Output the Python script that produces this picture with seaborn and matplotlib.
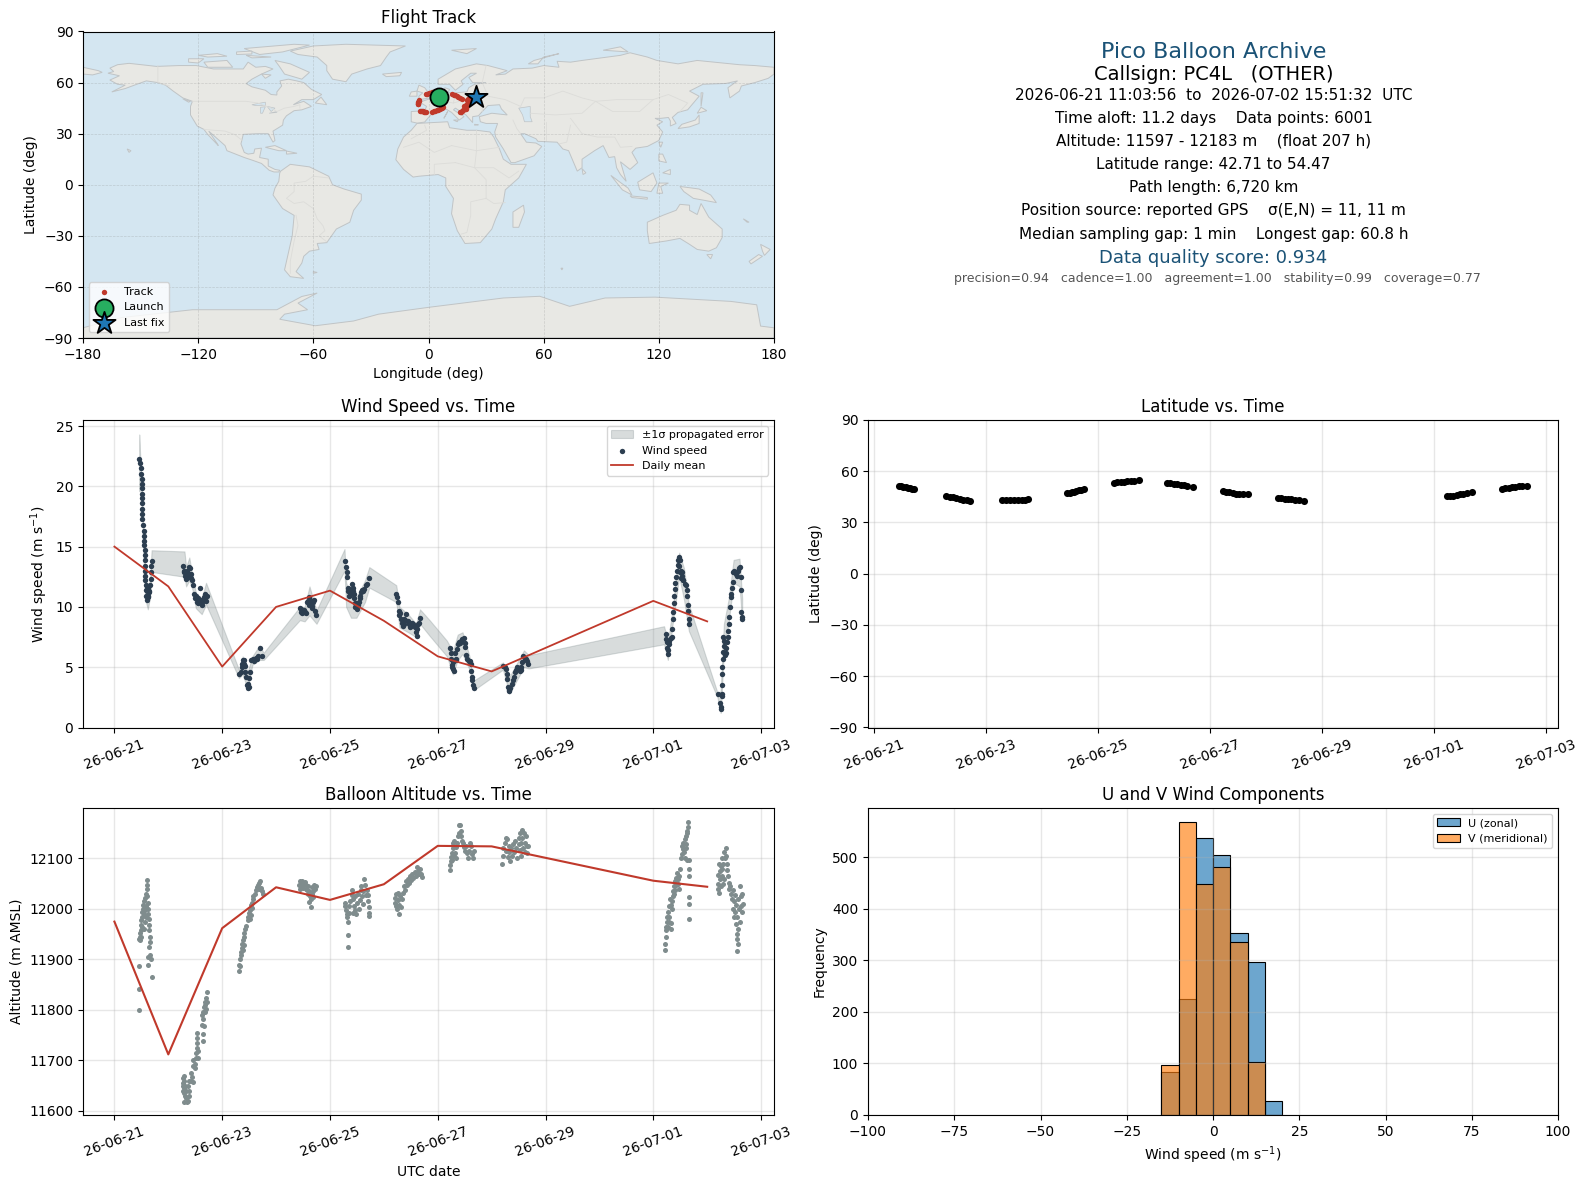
import numpy as np
import pandas as pd
import matplotlib
matplotlib.use('Agg')
import matplotlib.pyplot as plt
import matplotlib.dates as mdates
import seaborn as sns

# === data: time is days after 2026-06-21 00:00 ===
start = pd.Timestamp('2026-06-21')

wind_pts = [
    # 06-21
    (.46,22.3),(.48,21.9),(.49,21.5),(.50,21.05),(.51,20.6),(.51,20.2),(.51,19.9),(.52,19.4),(.52,19.0),(.52,18.6),
    (.52,18.1),(.52,17.7),(.52,17.3),(.53,16.8),(.54,16.3),(.54,15.9),(.54,15.5),(.545,15.1),(.56,14.7),(.56,14.3),
    (.565,13.85),(.57,13.4),(.57,13.0),(.57,12.6),(.57,12.2),(.58,11.8),(.58,11.4),(.595,10.9),(.61,10.6),(.63,10.8),
    (.65,11.2),(.66,11.8),(.67,12.3),(.68,12.9),(.68,13.4),(.69,13.8),(.60,11.3),(.62,10.9),(.64,11.3),(.61,11.7),(.63,11.6),
    (1.28,13.4),(1.30,13.0),(1.31,12.6),(1.33,12.3),(1.36,12.7),(1.38,13.3),(1.41,13.2),(1.42,12.7),(1.44,12.2),(1.46,11.8),
    (1.48,11.1),(1.50,10.7),(1.53,10.4),(1.56,10.3),(1.58,11.6),(1.61,10.3),(1.64,10.5),(1.66,10.8),(1.69,11.1),(1.71,10.9),
    (1.29,12.9),(1.32,12.9),(1.35,13.0),(1.37,12.5),(1.40,12.7),(1.43,12.4),(1.52,10.9),(1.55,10.7),(1.60,10.6),(1.63,10.2),(1.68,10.7),(1.70,10.5),
    # 06-23
    (2.31,4.4),(2.34,4.6),(2.36,5.3),(2.38,5.6),(2.41,5.3),(2.43,4.6),(2.44,4.15),(2.46,3.5),(2.49,3.4),(2.51,4.6),
    (2.54,5.6),(2.58,5.7),(2.62,5.8),(2.66,5.95),(2.70,6.6),(2.73,5.95),(2.37,5.0),(2.40,5.6),(2.42,5.1),(2.47,3.3),(2.48,3.6),(2.50,4.1),(2.59,5.5),(2.64,5.7),
    (3.44,9.9),(3.47,9.6),(3.51,9.75),(3.55,9.5),(3.57,10.4),(3.61,10.85),(3.65,10.4),(3.67,9.95),(3.71,10.6),(3.74,9.3),
    (3.46,9.8),(3.49,9.5),(3.53,9.6),(3.59,10.5),(3.63,10.6),(3.66,10.1),(3.69,10.4),(3.72,9.7),(3.62,10.2),
    # 06-25
    (4.27,13.8),(4.30,13.3),(4.32,12.5),(4.33,11.6),(4.35,10.9),(4.38,11.2),(4.42,11.6),(4.44,11.1),(4.47,10.0),(4.50,9.8),
    (4.54,10.4),(4.56,10.9),(4.60,11.4),(4.64,11.5),(4.69,11.9),(4.73,12.4),(4.31,12.9),(4.34,11.3),(4.36,11.5),(4.37,11.0),
    (4.40,11.9),(4.43,11.3),(4.45,10.7),(4.46,10.3),(4.48,10.3),(4.52,10.2),(4.55,10.7),(4.58,11.2),(4.62,11.3),(4.66,11.8),
    (5.23,11.1),(5.27,10.4),(5.28,9.7),(5.31,9.0),(5.35,8.45),(5.38,9.0),(5.42,9.4),(5.46,8.6),(5.49,8.3),(5.53,8.7),
    (5.57,8.3),(5.61,7.6),(5.64,8.6),(5.68,9.1),(5.25,10.8),(5.29,9.3),(5.30,9.5),(5.33,8.7),(5.37,8.6),(5.40,8.9),
    (5.44,8.8),(5.48,8.7),(5.51,8.4),(5.55,8.6),(5.59,7.9),(5.60,8.3),(5.62,8.2),(5.66,8.7),
    # 06-27
    (6.23,6.6),(6.25,5.7),(6.28,4.85),(6.30,4.7),(6.33,5.7),(6.35,6.5),(6.39,7.05),(6.43,7.2),(6.48,7.4),(6.51,6.65),
    (6.54,5.7),(6.58,5.55),(6.61,5.3),(6.63,4.15),(6.65,3.5),(6.67,3.25),(6.24,6.2),(6.26,5.2),(6.27,5.0),(6.29,5.4),
    (6.32,6.2),(6.34,5.6),(6.37,6.9),(6.41,7.0),(6.45,7.3),(6.50,7.0),(6.53,6.0),(6.60,5.5),(6.62,4.7),(6.64,3.9),
    (7.21,5.1),(7.26,4.85),(7.29,4.0),(7.32,3.1),(7.35,3.3),(7.39,3.9),(7.43,4.6),(7.47,5.0),(7.52,4.7),(7.55,5.0),
    (7.59,5.95),(7.63,5.7),(7.68,5.3),(7.24,5.0),(7.28,4.4),(7.31,3.4),(7.33,3.0),(7.37,3.6),(7.41,4.2),(7.45,4.8),
    (7.50,4.9),(7.54,4.8),(7.57,5.4),(7.61,5.7),(7.65,5.5),
    # 07-01
    (10.23,7.75),(10.25,7.05),(10.27,6.1),(10.30,7.2),(10.34,7.5),(10.36,9.0),(10.39,10.9),(10.44,13.0),(10.47,14.1),(10.50,13.85),
    (10.53,12.6),(10.56,12.2),(10.60,11.8),(10.63,10.9),(10.65,9.7),(10.66,8.6),(10.24,7.3),(10.26,6.6),(10.28,6.4),(10.29,6.9),
    (10.32,7.4),(10.35,8.2),(10.37,9.6),(10.38,10.3),(10.40,11.5),(10.41,12.0),(10.42,12.5),(10.45,13.5),(10.46,13.9),(10.48,13.4),
    (10.49,12.9),(10.51,13.0),(10.52,12.4),(10.54,12.9),(10.55,12.2),(10.58,11.9),(10.62,11.4),(10.64,10.2),(10.67,9.0),
    (11.21,2.8),(11.25,1.5),(11.27,2.75),(11.27,4.4),(11.29,5.7),(11.30,7.5),(11.34,6.2),(11.38,7.5),(11.41,8.6),(11.43,10.0),
    (11.46,11.6),(11.48,12.9),(11.53,12.75),(11.57,13.0),(11.61,13.3),(11.63,12.5),(11.63,11.4),(11.63,9.55),(11.65,9.0),
    (11.24,2.0),(11.26,1.7),(11.28,3.5),(11.28,5.0),(11.30,6.3),(11.31,6.8),(11.32,7.2),(11.33,6.0),(11.35,6.6),(11.36,7.1),
    (11.39,8.0),(11.40,9.2),(11.44,10.8),(11.45,11.1),(11.47,12.1),(11.50,13.0),(11.55,12.6),(11.59,13.2),(11.64,9.2),(11.28,2.6),
]

# propagated error band: t, lower, upper
band_pts = [
    (.46,19.6,24.3),(.48,20.0,22.4),(.52,17.2,19.1),(.545,13.8,15.1),(.58,10.5,12.2),(.62,9.8,11.2),(.66,10.8,12.4),(.69,12.9,14.7),
    (1.30,12.5,14.6),(1.33,11.7,13.3),(1.39,12.2,14.1),(1.45,11.4,12.5),(1.51,9.9,11.2),(1.62,9.4,10.7),(1.70,10.2,12.0),
    (2.31,4.1,4.8),(2.38,4.4,5.9),(2.47,3.2,4.6),(2.56,5.2,5.9),(2.69,5.6,6.8),(2.77,5.6,6.2),
    (3.44,8.9,10.0),(3.53,8.8,10.0),(3.62,9.3,11.7),(3.75,8.6,9.7),
    (4.27,13.0,14.8),(4.30,10.0,12.0),(4.39,9.1,11.0),(4.49,9.1,10.8),(4.65,10.4,12.2),(4.73,11.6,13.3),
    (5.23,10.4,11.8),(5.29,8.3,10.0),(5.45,7.9,9.4),(5.60,7.5,8.6),(5.67,8.6,9.8),(5.85,7.6,8.9),(6.17,5.9,7.2),
    (6.28,4.4,6.3),(6.37,5.6,7.7),(6.46,6.1,7.9),(6.59,4.8,5.9),(6.67,3.1,3.9),
    (7.21,4.8,5.4),(7.33,2.8,4.2),(7.60,5.0,6.4),(7.69,4.9,6.0),
    (10.20,6.9,8.4),(10.27,5.6,7.1),(10.35,8.3,9.6),(10.48,12.5,14.5),(10.57,10.6,13.2),(10.66,8.0,10.2),
    (11.19,2.5,2.9),(11.25,1.2,3.0),(11.31,6.3,8.6),(11.40,8.8,10.7),(11.49,12.0,13.9),(11.60,11.7,14.0),(11.65,8.8,10.7),
]

alt_pts = [
    (.46,11940),(.47,11938),(.48,11945),(.48,11952),(.49,11958),(.50,11968),(.50,11978),(.51,11985),(.52,11995),(.53,12000),
    (.53,12008),(.55,12015),(.56,12022),(.58,12030),(.60,12040),(.61,12057),(.60,12047),(.61,12025),(.62,12012),(.63,12000),
    (.63,11990),(.64,11980),(.64,11968),(.65,11958),(.66,11945),(.66,11935),(.65,11925),(.55,11990),(.57,11998),(.59,12005),
    (.56,11975),(.58,11985),(.54,11960),(.52,11965),(.50,11945),(.62,11905),(.63,11890),(.46,11888),(.69,11865),(.46,11842),
    (.46,11799),(.66,11908),(.68,11900),
    (1.27,11650),(1.27,11640),(1.28,11665),(1.28,11655),(1.29,11635),(1.29,11645),(1.30,11670),(1.30,11660),(1.31,11650),(1.31,11630),
    (1.32,11640),(1.33,11625),(1.34,11618),(1.30,11618),(1.36,11620),(1.38,11630),(1.38,11640),(1.36,11650),(1.39,11660),(1.42,11660),
    (1.45,11657),(1.44,11668),(1.42,11675),(1.45,11690),(1.46,11700),(1.50,11693),(1.50,11685),(1.52,11705),(1.52,11715),(1.53,11725),
    (1.55,11718),(1.56,11705),(1.54,11735),(1.54,11745),(1.54,11755),(1.64,11738),(1.64,11752),(1.62,11770),(1.66,11768),(1.63,11790),
    (1.65,11783),(1.65,11795),(1.66,11805),(1.68,11795),(1.68,11810),(1.69,11815),(1.70,11802),(1.70,11823),(1.71,11815),(1.72,11835),
    (2.31,11878),(2.31,11890),(2.33,11888),(2.33,11900),(2.34,11908),(2.35,11915),(2.36,11922),(2.37,11930),(2.38,11918),(2.39,11938),
    (2.40,11945),(2.40,11928),(2.41,11952),(2.43,11960),(2.44,11966),(2.47,11978),(2.48,11985),(2.49,11992),(2.51,11980),(2.52,11998),
    (2.53,11988),(2.54,12008),(2.55,12002),(2.56,12012),(2.57,12020),(2.58,12026),(2.60,12030),(2.62,12038),(2.64,12044),(2.66,12048),
    (2.68,12052),(2.70,12056),(2.69,12040),(2.72,12042),(2.74,12035),(2.75,12030),
    (3.43,12048),(3.44,12055),(3.45,12040),(3.46,12052),(3.47,12045),(3.49,12055),(3.50,12042),(3.51,12050),(3.53,12054),(3.55,12048),
    (3.56,12040),(3.58,12037),(3.59,12030),(3.60,12045),(3.62,12035),(3.63,12025),(3.64,12020),(3.66,12030),(3.67,12044),(3.68,12024),
    (3.69,12035),(3.70,12048),(3.72,12040),(3.74,12046),(3.65,12003),(3.62,12013),
    (4.27,12012),(4.28,12005),(4.30,11998),(4.31,11990),(4.32,11984),(4.33,11975),(4.35,11992),(4.36,12005),(4.38,12015),(4.40,12028),
    (4.41,12038),(4.43,12020),(4.45,12005),(4.46,11998),(4.47,12025),(4.49,11990),(4.50,12012),(4.52,12030),(4.54,12000),(4.55,12018),
    (4.57,12038),(4.58,12045),(4.60,12025),(4.61,12035),(4.62,12010),(4.63,12060),(4.65,12048),(4.66,12028),(4.68,12038),(4.70,12015),
    (4.71,12028),(4.72,12003),(4.73,11992),(4.73,11986),(4.33,11948),(4.33,11925),(4.43,11992),
    (5.20,12022),(5.21,12012),(5.22,12005),(5.23,12030),(5.25,12000),(5.26,12018),(5.27,12032),(5.28,11990),(5.29,12008),(5.30,12025),
    (5.31,12003),(5.33,12020),(5.35,12032),(5.37,12045),(5.39,12038),(5.41,12055),(5.43,12048),(5.45,12060),(5.47,12052),(5.49,12066),
    (5.51,12058),(5.53,12070),(5.55,12062),(5.57,12074),(5.59,12066),(5.61,12083),(5.63,12076),(5.65,12070),(5.67,12080),(5.69,12070),(5.71,12064),
    (6.22,12077),(6.22,12087),(6.24,12095),(6.25,12103),(6.27,12110),(6.27,12097),(6.28,12120),(6.29,12130),(6.31,12135),(6.30,12105),
    (6.32,12110),(6.34,12100),(6.34,12122),(6.36,12130),(6.37,12145),(6.39,12150),(6.40,12166),(6.42,12166),(6.43,12155),(6.44,12145),
    (6.45,12135),(6.47,12130),(6.49,12122),(6.50,12115),(6.52,12125),(6.54,12110),(6.56,12100),(6.58,12115),(6.60,12130),(6.62,12125),
    (6.63,12108),(6.65,12100),(6.67,12115),
    (7.20,12090),(7.21,12105),(7.22,12120),(7.24,12130),(7.26,12140),(7.27,12115),(7.29,12138),(7.30,12102),(7.32,12125),(7.33,12112),
    (7.35,12095),(7.36,12120),(7.38,12105),(7.40,12128),(7.42,12112),(7.44,12135),(7.46,12120),(7.48,12100),(7.50,12128),(7.51,12140),
    (7.52,12116),(7.53,12150),(7.54,12130),(7.55,12105),(7.56,12156),(7.57,12140),(7.58,12120),(7.60,12150),(7.61,12130),(7.62,12112),
    (7.64,12145),(7.65,12125),(7.66,12110),(7.68,12125),
    (10.21,11919),(10.21,11931),(10.23,11945),(10.24,11958),(10.24,11965),(10.25,11975),(10.26,11985),(10.27,11995),(10.28,11965),(10.29,11975),
    (10.29,12005),(10.30,11985),(10.31,12020),(10.32,12008),(10.33,11960),(10.33,11973),(10.34,12000),(10.35,12015),(10.36,12025),(10.37,12035),
    (10.38,12030),(10.39,12045),(10.40,12038),(10.41,12055),(10.42,12062),(10.43,12048),(10.44,12072),(10.45,12060),(10.46,12050),(10.47,12040),
    (10.48,12065),(10.49,12080),(10.52,12100),(10.54,12108),(10.55,12118),(10.54,12125),(10.56,12130),(10.57,12112),(10.58,12100),(10.58,12138),
    (10.60,12145),(10.60,12120),(10.61,12128),(10.62,12098),(10.62,12150),(10.63,12155),(10.64,12162),(10.64,12173),(10.66,12097),(10.66,12080),
    (10.66,12065),(10.66,12024),(10.66,12010),(10.66,11981),
    (11.20,12067),(11.20,12050),(11.21,12040),(11.22,12031),(11.22,12090),(11.23,12075),(11.24,12060),(11.25,12085),(11.26,12045),(11.27,12100),
    (11.27,12065),(11.28,12080),(11.29,12050),(11.30,12090),(11.31,12060),(11.32,12113),(11.33,12100),(11.34,12120),(11.35,12105),(11.36,12090),
    (11.37,12078),(11.38,12065),(11.40,12052),(11.41,12040),(11.43,12045),(11.45,12030),(11.46,12020),(11.47,12037),(11.48,12000),(11.49,12015),
    (11.50,11985),(11.51,11995),(11.52,12028),(11.53,11970),(11.54,12008),(11.55,11950),(11.56,11985),(11.57,11960),(11.58,12020),(11.59,12000),
    (11.60,11975),(11.61,12045),(11.62,12025),(11.63,12005),(11.64,11995),(11.65,12030),(11.66,12010),(11.56,11940),(11.57,11930),(11.55,11917),
]

# daily means
day_t = [0, 1, 2, 3, 4, 5, 6, 7, 10, 11]
day_wind = [15.0, 11.7, 5.05, 10.0, 11.35, 8.85, 5.9, 4.65, 10.5, 8.8]
day_alt = [11975, 11712, 11962, 12043, 12018, 12049, 12125, 12124, 12056, 12044]

lat_pts = [
    (.45,51.5),(.49,51.2),(.53,50.9),(.57,50.6),(.61,50.3),(.65,50.0),(.69,49.7),(.73,49.5),
    (1.30,45.6),(1.36,45.2),(1.42,44.8),(1.48,44.3),(1.54,43.9),(1.60,43.4),(1.66,43.0),(1.72,42.8),
    (2.30,43.0),(2.37,43.0),(2.44,43.0),(2.51,43.0),(2.58,43.1),(2.65,43.2),(2.71,43.4),(2.76,43.6),
    (3.46,47.2),(3.50,47.5),(3.54,47.8),(3.58,48.1),(3.62,48.4),(3.66,48.8),(3.70,49.2),(3.75,49.5),
    (4.29,53.3),(4.35,53.5),(4.41,53.7),(4.47,53.9),(4.53,54.0),(4.59,54.1),(4.65,54.3),(4.73,54.6),
    (5.24,53.1),(5.30,52.9),(5.36,52.6),(5.42,52.3),(5.48,52.0),(5.54,51.7),(5.60,51.4),(5.70,50.7),
    (6.23,48.2),(6.29,47.9),(6.35,47.6),(6.41,47.2),(6.47,46.9),(6.53,46.7),(6.60,46.5),(6.69,46.4),
    (7.22,44.2),(7.28,44.1),(7.34,43.9),(7.40,43.7),(7.46,43.5),(7.52,43.3),(7.60,43.0),(7.68,42.8),
    (10.23,45.4),(10.29,45.6),(10.35,45.8),(10.41,46.1),(10.47,46.4),(10.53,46.8),(10.60,47.3),(10.69,47.8),
    (11.22,49.9),(11.28,50.1),(11.34,50.4),(11.40,50.7),(11.46,51.0),(11.52,51.2),(11.58,51.4),(11.66,51.5),
]

track_lon = [4.5,5,5.5,6,6.5,7,
             7.6,6.8,6,5.2,4.4,3.6,2.8,2,
             -1.5,-2,-2.5,-3,-3.5,-4,-4.5,
             -5.6,-5.5,-5.4,-5.3,-5.2,-5,
             -1.5,-.8,0,.8,1.6,2.4,
             12.5,13.2,14,14.8,15.6,16.4,17.2,
             21.5,20.8,20,19.3,18.6,
             19.5,18.8,18.1,17.4,16.8,16.2,
             18.8,19.3,19.8,20.2,20.6,21,
             20,20.7,21.4,22.1,22.8,23.5]
track_lat = [51.2,50.9,50.6,50.3,50,49.6,
             45.6,45,44.5,44.1,43.7,43.4,43.1,42.8,
             43,43,43,43.2,43.3,43.4,43.6,
             47.2,47.7,48.2,48.7,49.2,49.6,
             53.3,53.5,53.7,53.9,54.2,54.6,
             53.2,52.9,52.5,52.1,51.6,51.1,50.6,
             48.2,47.8,47.4,46.9,46.4,
             44.6,44.2,43.8,43.4,43,42.7,
             45.5,46,46.5,47,47.4,47.9,
             49.8,50.1,50.4,50.7,51,51.2]
launch_lonlat = (5.5, 51.5)
last_lonlat = (25.0, 51.3)

bin_edges = [-15, -10, -5, 0, 5, 10, 15, 20]
u_counts = [84, 225, 537, 503, 352, 297, 27]
v_counts = [96, 567, 447, 480, 335, 102, 0]

# coarse land outlines, lon/lat
land_polys = [
    # North America
    [(-167,65.5),(-164,66.5),(-166,68.5),(-162,70.5),(-156,71.3),(-148,70.3),(-141.7,69.5),(-130,70),(-121,70),(-112,68),(-103,68),(-96.5,68),(-94,72),(-90,69),(-85,69.5),(-81,68),(-87,65),(-92,62),(-95,59.4),(-92,57.5),(-85,55.5),(-82,53),(-79,52.7),(-79,54.5),(-76.5,58),(-77.4,61),(-73,62),(-68.7,61),(-65,60),(-61,56),(-55.6,53),(-60,50),(-66,50),(-70.4,47),(-65,49),(-61,46),(-66,44),(-70,43.5),(-74,40.5),(-75.6,38),(-76,35),(-81,31.5),(-80,26),(-81,25),(-83.5,30),(-89,30),(-96.5,29.6),(-97.7,24),(-96,19),(-94,18),(-91,18.5),(-90.5,21),(-87,21.5),(-88,16),(-83.5,15),(-83.5,11),(-80,9),(-77.5,8.5),(-78,7.5),(-80.5,7.5),(-83,8.5),(-87,12.5),(-92,14.5),(-96,16),(-105,20),(-106,23),(-112,29),(-114.5,31.5),(-110,24),(-109.5,23),(-115,29.5),(-117,32.5),(-120.5,34.5),(-124,41),(-124,46),(-123,49),(-128,51),(-133,55),(-137,58.5),(-141,60),(-147,61),(-152,59),(-158,56.5),(-165,54.5),(-158,58.5),(-162,59),(-166,61.5),(-161,64)],
    # South America
    [(-77,8),(-72,12),(-62,10.5),(-52,5),(-50,0),(-44,-2.5),(-35,-5.5),(-35,-9),(-39,-15),(-41,-22),(-48,-26),(-53,-34),(-58,-34.5),(-57,-38),(-62,-39),(-65,-42),(-66,-46),(-69,-51),(-65,-55),(-72,-54),(-75,-50),(-73,-40),(-71,-30),(-70,-18),(-76,-14),(-81,-6),(-80,-2),(-78,2),(-77.5,7)],
    # Africa
    [(-6,36),(10,37),(11,33.5),(20,32),(25,32),(32,31),(34,28),(37,21),(39,15),(43,12),(51,12),(47,4),(40,-3),(39,-10),(35,-20),(33,-26),(27,-34),(19,-34.5),(15,-27),(12,-17),(13,-8),(9,-1),(9,4),(5,6),(-5,5),(-8,4.5),(-13,9),(-17,14.7),(-16,21),(-13,28),(-9,32)],
    # Eurasia
    [(-9,37),(-9,43),(-2,43.5),(-1,46),(-4.5,48.5),(2,51),(8,54),(8.5,57),(11,56),(10,54),(14,54),(20,54.5),(21,57),(24,59),(30,60),(23,60),(21,63),(25,65.5),(22,65.5),(17,61),(18,59),(14,55.5),(11,59),(5,59),(5,62),(14,68),(25,71),(31,70),(41,67),(35,64.5),(40,65),(44,68),(54,68.5),(60,70),(68,69),(67,72.5),(74,72),(80,73),(100,76),(105,77.5),(114,75),(119,73),(130,71),(140,73),(162,70.5),(170,70),(180,69),(180,65),(177,62.5),(170,60),(163,58),(162,55),(157,51),(156,57),(161,61),(155,59.5),(143,59),(136,55),(141,52),(135,44),(130,42.5),(127,39.5),(129,36),(126,34.5),(126,37.5),(125,39.5),(121,39),(118,39),(122,37),(119,35),(122,31),(120,26),(114,22.5),(108,21.5),(106,19),(109,13),(105,9),(100,13.5),(103,2),(100,6),(98,10),(97,16.5),(94,16),(91,23),(86.5,20),(80,15),(80,10),(77.5,8),(73,20),(70,21),(67,25),(57,25.5),(56,27),(50,30),(48,30),(51,25),(56,24.5),(59,22.5),(55,17),(45,13),(43,13),(39,21),(35,28),(34.5,31),(36,36),(30,36),(27,37),(26.5,40),(33,42),(41,41),(38,44.5),(37,47),(31,46.5),(28,43),(26,40.5),(23,40),(23,36.5),(19.5,41),(14,45),(13,44),(18.5,40),(16,38),(12,42.5),(9,44.5),(3,43),(0,39.5),(-2,36.8),(-6,36.2)],
    # Antarctica
    [(-180,-90),(-180,-84),(-160,-78),(-123,-73.4),(-79,-73.4),(-66,-65.6),(-58,-63.6),(-68,-69.5),(-63,-73.4),(-75,-76),(-77.5,-79),(-59,-82.8),(-39,-80),(-26,-76),(0,-72),(39,-66.5),(58,-65.5),(73.5,-71.4),(92,-66.5),(118,-66),(157.5,-68.5),(171,-70.5),(173,-83),(180,-84),(180,-90)],
    # Australia, islands
    [(114,-22),(122,-18),(129,-15),(131,-11.5),(136,-12),(136,-15),(140,-17.5),(142,-11),(146,-19),(153,-26),(153,-31),(150,-37),(146,-39),(140,-38),(136,-35),(131,-31.5),(124,-33),(115,-34.5),(114,-27)],
    [(-72,78.5),(-60,81.5),(-43,82.5),(-12,81.5),(-20,78),(-22,75),(-25,70),(-32,68),(-40,65),(-43,60.5),(-50,62),(-53,67),(-53,70),(-58,75),(-68,76.5)],
    [(-80,73),(-72,71),(-62,66),(-66,62),(-75,65),(-78,70)],
    [(-117,72),(-105,73),(-102,69),(-115,69)],
    [(-96,80),(-70,82.5),(-62,82),(-76,78),(-88,76.5)],
    [(-125,74),(-117,74),(-120,71.5),(-125,72)],
    [(-95,76),(-82,75),(-92,74.5)],
    [(-120,76),(-110,77),(-105,75.5),(-115,75)],
    [(-100,78),(-92,78.5),(-92,76.8),(-100,76.5)],
    [(-87,65),(-82,64.5),(-85,62.5)],
    [(-59,48),(-53,47),(-56,51.5)],
    [(-128,50.5),(-124,49),(-125,48.5)],
    [(-85,22),(-80,23),(-74,20),(-78,20)],
    [(-74,19.8),(-68.5,18.5),(-74,18)],
    [(-180,69),(-172,67),(-170,66),(-175,64.5),(-180,65)],
    [(-157,21),(-155,20),(-156,19)],
    [(-5,50),(1,51),(0,54),(-2,57),(-5,58.5),(-6,55),(-3,54),(-5,52)],
    [(-10,52),(-6,52),(-6,55),(-9,54.5)],
    [(-24,65),(-14,66),(-15,64),(-22,63.5)],
    [(12,79),(25,80),(20,77)],
    [(52,71),(55,73),(68,77),(60,75),(57,71)],
    [(91,79),(100,81),(104,78)],
    [(44,-16),(49.5,-12),(50,-16),(47,-25),(44,-25)],
    [(130,33),(136,34),(141,36),(141,41),(139,38),(132,35.5)],
    [(140,42),(145,43.5),(142,45.5)],
    [(142,46),(143,54),(142,54)],
    [(80,9.5),(82,7),(80.5,6)],
    [(120,25),(122,25),(121,22)],
    [(120,18),(122,18),(124,13),(120,14)],
    [(122,7),(126,9),(126,6)],
    [(109,1.5),(117,7),(119,1),(116,-4),(110,-3)],
    [(95,5.5),(104,-2),(106,-6),(101,-3)],
    [(105,-6.5),(114,-7.5),(114,-8.5),(106,-7.5)],
    [(119,-5),(120,1),(125,1),(121,-1),(122,-5)],
    [(131,-1),(141,-2.5),(147,-6),(150,-10.5),(143,-9),(138,-8),(133,-4)],
    [(145,-41),(148,-41),(147,-43.5)],
    [(173,-35),(178,-38),(175,-41.5),(174,-39)],
    [(172,-41),(174,-42),(168,-46.5),(167,-45)],
    [(164,-20),(167,-22),(166,-22)],
    [(-60,-51),(-58,-51.5),(-60,-52)],
    [(69,-49),(70,-49),(69.5,-50)],
    [(9,41),(10,43),(8,39)],
    [(13,38),(15.5,38),(15,37)],
    [(24,35.5),(26,35.2),(24,35)],
]
lake_polys = [
    [(-92,47),(-85,48.5),(-85,46.5),(-90,46.5)],
    [(-87.5,45.5),(-85,45.8),(-86.5,42),(-87.5,42)],
    [(-84,46),(-80,45),(-82,43)],
    [(-83,42),(-79,43),(-79,42.5)],
    [(47,45),(53,46),(53,40),(54,37),(50,37),(49,41)],
]
border_lines = [
    [(-123,49),(-95,49),(-89,48),(-82,45),(-79,43),(-75,45),(-70,46),(-67,47),(-67,45)],
    [(-141,70),(-141,60),(-135,58)],
    [(-117,32.5),(-106,31.5),(-101,29.5),(-97,26)],
    [(-52,4),(-60,5),(-64,2),(-70,1),(-70,-4),(-74,-8),(-70,-11),(-65,-10),(-60,-14),(-58,-20),(-55,-24),(-54,-27),(-57,-30),(-53,-33.5)],
    [(-69,-18),(-68,-24),(-70,-33),(-72,-45),(-72,-52)],
    [(-9,27),(-1,32),(-2,35)],
    [(25,32),(25,20),(24,10),(30,3),(30,-8),(22,-10),(22,-18),(20,-28),(17,-29)],
    [(12,23),(25,20),(37,22)],
    [(12,23),(3,19),(-5,25),(-13,22)],
    [(14,13),(3,12),(3,6)],
    [(14,13),(24,10),(34,10),(42,4),(47,8)],
    [(30,-8),(34,-11),(40,-10.5)],
    [(28,60),(31,52),(40,50),(48,46),(50,51),(60,51),(70,55),(80,51),(87,49),(98,50),(108,50),(117,50),(125,53),(135,48),(131,43)],
    [(28,60),(30,70)],
    [(74,39),(80,30),(88,28),(97,28),(100,22),(106,22.5)],
    [(87,49),(96,43),(110,43),(117,50)],
    [(74,35),(72,25),(68,24)],
    [(44,38),(46,33),(48,30)],
    [(61,37),(61,26)],
    [(53,42),(66,41),(80,42),(87,49)],
    [(-2,43.5),(3,42.5)],
    [(2,51),(8,49),(13,48),(19,50),(24,50),(28,46),(28,43)],
    [(8,54),(8,49),(7,44)],
    [(14,54),(13,48)],
]

info_lines = [
    ('Pico Balloon Archive', 16, '#1a5276', 52, 1213.5),
    ('Callsign: PC4L   (OTHER)', 14, 'black', 75, 1213.5),
    ('2026-06-21 11:03:56  to  2026-07-02 15:51:32  UTC', 11, 'black', 95.5, 1213.5),
    ('Time aloft: 11.2 days    Data points: 6001', 11, 'black', 118, 1213.5),
    ('Altitude: 11597 - 12183 m    (float 207 h)', 11, 'black', 141.5, 1213.5),
    ('Latitude range: 42.71 to 54.47', 11, 'black', 164, 1213.5),
    ('Path length: 6,720 km', 11, 'black', 187.5, 1213.5),
    ('Position source: reported GPS    σ(E,N) = 11, 11 m', 11, 'black', 210, 1213.5),
    ('Median sampling gap: 1 min    Longest gap: 60.8 h', 11, 'black', 234, 1213.5),
    ('Data quality score: 0.934', 13, '#1a5276', 258, 1213.5),
    ('precision=0.94   cadence=1.00   agreement=1.00   stability=0.99   coverage=0.77', 9, '#555555', 279, 1217.5),
]

# === frames ===
wind = pd.DataFrame(wind_pts, columns=['t', 'v'])
band = pd.DataFrame(band_pts, columns=['t', 'lo', 'hi'])
alt = pd.DataFrame(alt_pts, columns=['t', 'h'])
lat = pd.DataFrame(lat_pts, columns=['t', 'lat'])
daily = pd.DataFrame({'t': day_t, 'wind': day_wind, 'alt': day_alt})
for d in (wind, band, alt, lat, daily):
    d['time'] = start + pd.to_timedelta(d['t'], unit='D')

W, H = 1587, 1189
fig = plt.figure(figsize=(W / 100, H / 100), dpi=100)


def panel(x0, x1, y0, y1):
    return fig.add_axes([x0 / W, 1 - y1 / H, (x1 - x0) / W, (y1 - y0) / H])


COL1 = (83, 774)
COL2 = (868, 1558)
ax_map = panel(*COL1, 31.5, 338)
ax_wind = panel(*COL1, 420, 727.5)
ax_lat = panel(*COL2, 420, 727.5)
ax_alt = panel(*COL1, 808, 1115)
ax_hist = panel(*COL2, 808, 1115)

RED = '#c0392b'
GREY = '#7f8c8d'
NAVY = '#2c3e50'

# --- map ---
ax_map.set_facecolor('#d4e6f1')
for poly in land_polys:
    xs, ys = zip(*poly)
    ax_map.fill(xs, ys, facecolor='#e8e8e4', edgecolor='#c0c4c6', lw=0.7, zorder=1)
for poly in lake_polys:
    xs, ys = zip(*poly)
    ax_map.fill(xs, ys, facecolor='#d4e6f1', edgecolor='#c0c4c6', lw=0.5, zorder=1.1)
for line in border_lines:
    xs, ys = zip(*line)
    ax_map.plot(xs, ys, color='#dcdcd9', lw=0.6, zorder=1.2)
ax_map.grid(True, ls='--', lw=0.5, color='#888888', alpha=0.3)
sns.scatterplot(x=track_lon, y=track_lat, s=15, color=RED, linewidth=0, label='Track', ax=ax_map, zorder=3)
sns.scatterplot(x=[launch_lonlat[0]], y=[launch_lonlat[1]], s=170, color='#27ae60', edgecolor='black',
                linewidth=1.3, label='Launch', ax=ax_map, zorder=4)
sns.scatterplot(x=[last_lonlat[0]], y=[last_lonlat[1]], s=280, marker='*', color='#1f77b4', edgecolor='black',
                linewidth=1.3, label='Last fix', ax=ax_map, zorder=5)
ax_map.set_xlim(-180, 180)
ax_map.set_ylim(-90, 90)
ax_map.set_xticks(range(-180, 181, 60))
ax_map.set_yticks(range(-90, 91, 30))
ax_map.set_xlabel('Longitude (deg)')
ax_map.set_ylabel('Latitude (deg)')
ax_map.set_title('Flight Track')
ax_map.legend(loc='lower left', fontsize=8)

# --- wind ---
sns.scatterplot(data=wind, x='time', y='v', s=15, color=NAVY, linewidth=0, label='Wind speed', ax=ax_wind, zorder=3)
ax_wind.fill_between(band['time'], band['lo'], band['hi'], color=GREY, alpha=0.3, linewidth=0.8,
                     label='±1σ propagated error', zorder=2)
sns.lineplot(data=daily, x='time', y='wind', color=RED, lw=1.3, label='Daily mean', ax=ax_wind, zorder=4)
ax_wind.set_ylim(0, 25.5)
ax_wind.set_ylabel('Wind speed (m s$^{-1}$)')
ax_wind.set_title('Wind Speed vs. Time')
h, l = ax_wind.get_legend_handles_labels()
order = [l.index('±1σ propagated error'), l.index('Wind speed'), l.index('Daily mean')]
ax_wind.legend([h[i] for i in order], [l[i] for i in order], loc='upper right', fontsize=8)

# --- latitude ---
sns.scatterplot(data=lat, x='time', y='lat', s=26, color='black', linewidth=0, ax=ax_lat, zorder=3)
ax_lat.set_ylim(-90, 90)
ax_lat.set_yticks(range(-90, 91, 30))
ax_lat.set_ylabel('Latitude (deg)')
ax_lat.set_title('Latitude vs. Time')

# --- altitude ---
sns.scatterplot(data=alt, x='time', y='h', s=13, color=GREY, linewidth=0, ax=ax_alt, zorder=3)
sns.lineplot(data=daily, x='time', y='alt', color=RED, lw=1.5, ax=ax_alt, zorder=4)
ax_alt.set_ylim(11592, 12200)
ax_alt.set_yticks(range(11600, 12101, 100))
ax_alt.set_ylabel('Altitude (m AMSL)')
ax_alt.set_title('Balloon Altitude vs. Time')

ticks = pd.date_range('2026-06-21', periods=7, freq='2D')
for ax, lim in ((ax_wind, (-0.583, 12.24)), (ax_lat, (-0.1, 12.22)), (ax_alt, (-0.583, 12.24))):
    ax.set_xlim(start + pd.Timedelta(days=lim[0]), start + pd.Timedelta(days=lim[1]))
    ax.set_xticks(ticks)
    ax.xaxis.set_major_formatter(mdates.DateFormatter('%y-%m-%d'))
    ax.tick_params(axis='x', rotation=20)
    ax.set_xlabel('')
    ax.grid(True, color='#b0b0b0', alpha=0.3, lw=1)
ax_alt.set_xlabel('UTC date')

# --- histogram ---
centers = [(a + b) / 2 for a, b in zip(bin_edges[:-1], bin_edges[1:])]
sns.histplot(x=centers, weights=u_counts, bins=bin_edges, color='#1f77b4', alpha=0.65, edgecolor='black',
             linewidth=0.8, label='U (zonal)', ax=ax_hist)
sns.histplot(x=centers, weights=v_counts, bins=bin_edges, color='#ff7f0e', alpha=0.65, edgecolor='black',
             linewidth=0.8, label='V (meridional)', ax=ax_hist)
ax_hist.set_xlim(-100, 100)
ax_hist.set_ylim(0, 595)
ax_hist.set_xlabel('Wind speed (m s$^{-1}$)')
ax_hist.set_ylabel('Frequency')
ax_hist.set_title('U and V Wind Components')
ax_hist.grid(True, color='#b0b0b0', alpha=0.3, lw=1)
ax_hist.legend(loc='upper right', fontsize=8)

# --- summary text ---
for txt, size, colour, ypix, xpix in info_lines:
    fig.text(xpix / W, 1 - ypix / H, txt, ha='center', va='center', fontsize=size, color=colour)

fig.savefig('out.png', dpi=100)
